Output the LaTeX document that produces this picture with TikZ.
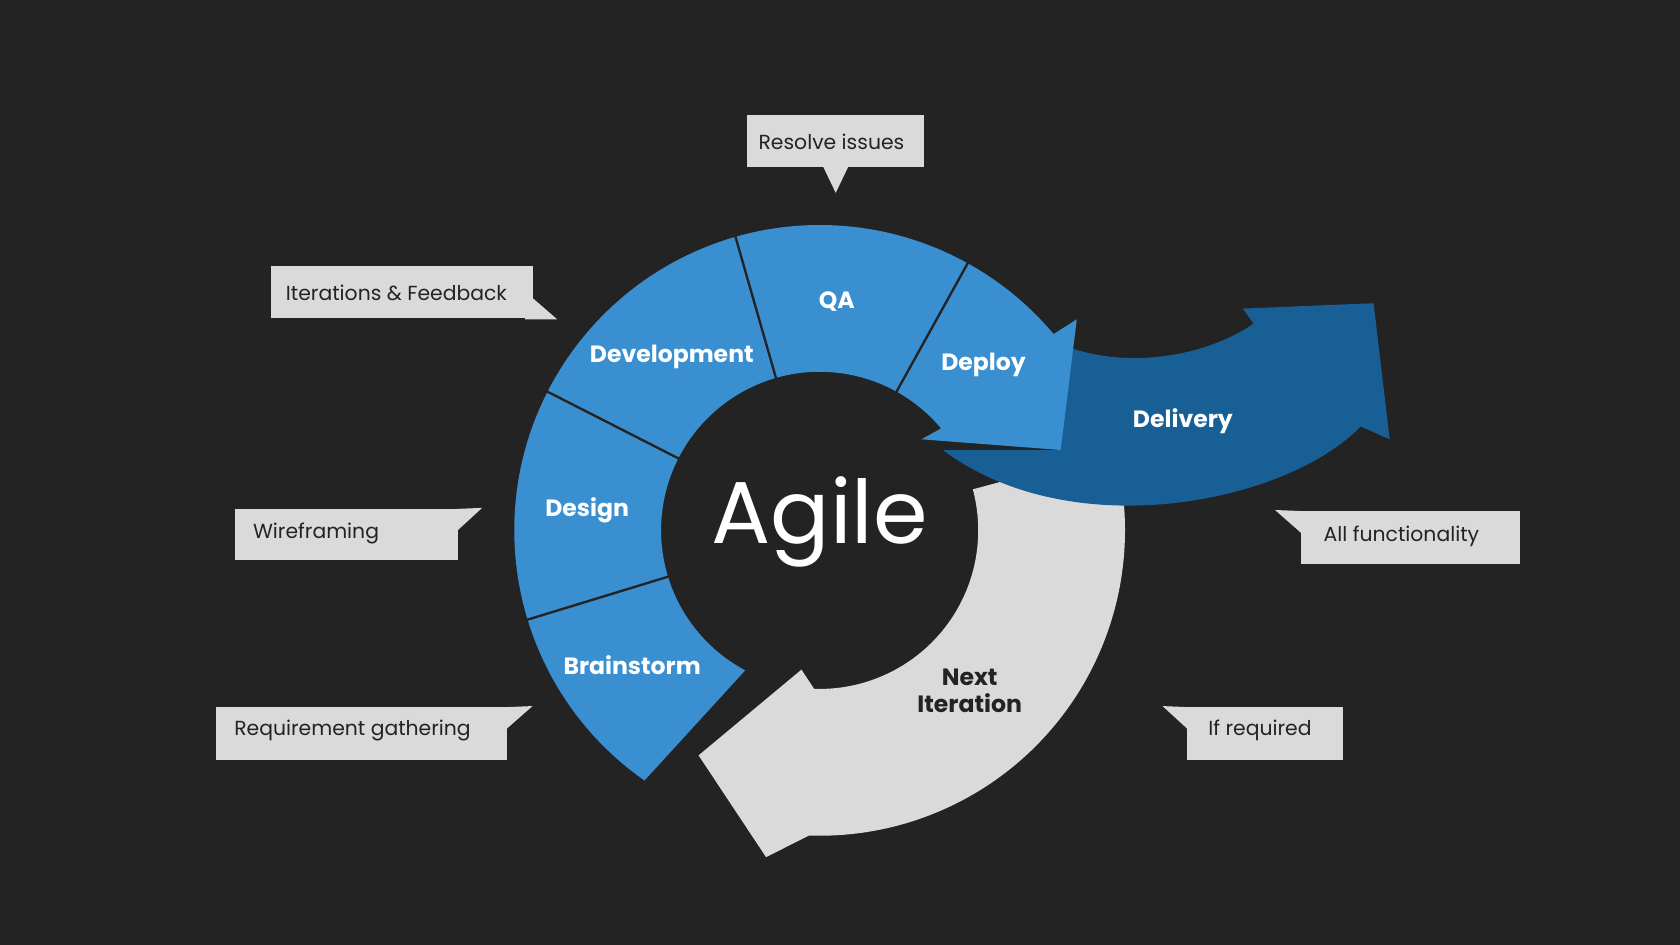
\documentclass[tikz,border=0pt]{standalone}
\usepackage{fontspec}
\setmainfont{Poppins}
\usetikzlibrary{calc}
\definecolor{bg}{HTML}{232323}
\definecolor{ablue}{HTML}{3A8FD0}
\definecolor{dblue}{HTML}{175F95}
\definecolor{lgray}{HTML}{DADADA}
\tikzset{
 callout/.style={fill=lgray},
 ctext/.style={text=bg,font=\fontsize{19}{22}\selectfont,anchor=center},
 seg/.style={text=white,font=\fontsize{22}{26}\selectfont\bfseries,anchor=center},
 divider/.style={draw=bg,line width=2.2pt}
}
\begin{document}
\begin{tikzpicture}[x=1pt,y=1pt]
\fill[bg] (0,0) rectangle (1568,-882);
\useasboundingbox (0,0) rectangle (1568,-882);
\coordinate (C) at (765,-495);
% gray next iteration arrow
\fill[lgray] ($(C)+(15:285)$) arc[start angle=15,end angle=-92,radius=285]
  -- (715,-800) -- (652,-705) -- (748,-625) -- ($(C)+(-92:148)$)
  arc[start angle=-92,end angle=15,radius=148] -- cycle;
% delivery arrow
\fill[dblue] (1000,-325) .. controls (1060,-345) and (1130,-330) .. (1170,-302)
  -- (1160,-288) -- (1282,-283) -- (1297,-410) -- (1270,-398)
  .. controls (1200,-470) and (1000,-510) .. (880,-420) -- (990,-420) -- cycle;
% blue ring
\fill[ablue] ($(C)+(235:285)$) arc[start angle=235,end angle=40,radius=285]
  -- (1005,-298) -- (990,-420) -- (860,-410) -- ($(C)+(40:148)$)
  arc[start angle=40,end angle=242,radius=148] -- cycle;
\foreach \a in {197,153,106,61} \draw[divider] ($(C)+(\a:146)$) -- ($(C)+(\a:288)$);
% labels
\node[seg] (dev) at (627,-333) {Development};
\node[seg] (qa) at (781,-281) {QA};
\node[seg] (dep) at (918,-341) {Deploy};
\node[seg] (des) at (548,-476) {Design};
\node[seg] (bra) at (590,-621) {Brainstorm};
\node[seg] (del) at (1104,-393) {Delivery};
\node[seg,text=bg,align=center,font=\fontsize{22}{25}\selectfont\bfseries] (nxt) at (905,-645) {Next\\Iteration};
\node[text=white,font=\fontsize{82}{86}\selectfont] (agile) at (765,-487) {Agile};
% callouts
\fill[callout] (697,-107) rectangle (862,-156);
\fill[callout] (768,-155) -- (792,-155) -- (780,-180) -- cycle;
\node[ctext] (c1) at (776,-132) {Resolve issues};
\fill[callout] (253,-248) rectangle (497,-297);
\fill[callout] (490,-272) -- (520,-298) -- (490,-298) -- cycle;
\node[ctext] (c2) at (370,-273) {Iterations \& Feedback};
\fill[callout] (219,-475) rectangle (427,-523);
\fill[callout] (426,-475) -- (450,-474) -- (426,-496) -- cycle;
\node[ctext] (c3) at (295,-498) {Wireframing};
\fill[callout] (202,-660) rectangle (473,-709);
\fill[callout] (472,-660) -- (497,-659) -- (472,-681) -- cycle;
\node[ctext] (c4) at (329,-682) {Requirement gathering};
\fill[callout] (1214,-477) rectangle (1419,-526);
\fill[callout] (1215,-477) -- (1190,-476) -- (1215,-498) -- cycle;
\node[ctext] (c5) at (1308,-501) {All functionality};
\fill[callout] (1108,-660) rectangle (1253,-709);
\fill[callout] (1109,-660) -- (1085,-659) -- (1109,-681) -- cycle;
\node[ctext] (c6) at (1176,-682) {If required};
\end{tikzpicture}
\end{document}
